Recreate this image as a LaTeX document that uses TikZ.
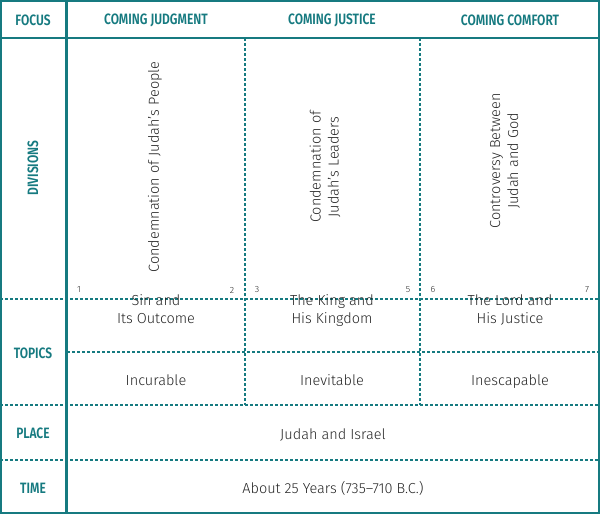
\documentclass[tikz,border=0pt]{standalone}
\usepackage{fontspec}
\setmainfont{Fira Sans Light}
\newfontfamily\hdfont[FakeStretch=0.8]{Fira Sans SemiBold}
\definecolor{teal1}{HTML}{167A80}
\begin{document}
\begin{tikzpicture}[x=1pt,y=-1pt,
  solid line/.style={teal1,line width=2.2pt},
  dash line/.style={teal1,line width=1.2pt,dash pattern=on 3pt off 2pt},
  hd/.style={text=teal1,font=\hdfont\fontsize{15}{16}\selectfont},
  bd/.style={font=\fontsize{14.5}{18}\selectfont,align=center,text=black!85},
  vt/.style={bd,rotate=90},
  num/.style={font=\fontsize{9}{10}\selectfont,text=black!85}]
\useasboundingbox (0,0) rectangle (600,514);
% dashed lines
\draw[dash line] (245,38) -- (245,405);
\draw[dash line] (420,38) -- (420,405);
\draw[dash line] (0,299) -- (600,299);
\draw[dash line] (67,352) -- (600,352);
\draw[dash line] (0,405) -- (600,405);
\draw[dash line] (0,460) -- (600,460);
% solid lines
\draw[solid line] (1.1,1.1) rectangle (598.9,512.9);
\draw[solid line] (0,38) -- (600,38);
\draw[solid line] (66.5,0) -- (66.5,514);
% headers
\node[hd] (h0) at (33,20) {FOCUS};
\node[hd] (h1) at (156,20) {COMING JUDGMENT};
\node[hd] (h2) at (332,20) {COMING JUSTICE};
\node[hd] (h3) at (510,20) {COMING COMFORT};
\node[hd,rotate=90] (r1) at (33,168) {DIVISIONS};
\node[hd] (r2) at (33,353) {TOPICS};
\node[hd] (r3) at (33,433) {PLACE};
\node[hd] (r4) at (33,488) {TIME};
% divisions
\node[vt] (d1) at (155,167) {Condemnation of Judah’s People};
\node[vt] (d2) at (325,167) {Condemnation of\\Judah’s Leaders};
\node[vt] (d3) at (505,161) {Controversy Between\\Judah and God};
\node[num] (n1) at (79,290) {1};
\node[num] (n2) at (232,290) {2};
\node[num] (n3) at (257,290) {3};
\node[num] (n5) at (408,290) {5};
\node[num] (n6) at (433,290) {6};
\node[num] (n7) at (587,290) {7};
% topics
\node[bd,anchor=base] (t1) at (156,323) {Sin and\\Its Outcome};
\node[bd,anchor=base] (t2) at (332,323) {The King and\\His Kingdom};
\node[bd,anchor=base] (t3) at (510,323) {The Lord and\\His Justice};
\node[bd,anchor=base] (u1) at (156,385) {Incurable};
\node[bd,anchor=base] (u2) at (332,385) {Inevitable};
\node[bd,anchor=base] (u3) at (510,385) {Inescapable};
\node[bd,anchor=base] (p) at (333,439) {Judah and Israel};
\node[bd,anchor=base] (tm) at (333,493) {About 25 Years (735–710 B.C.)};
\end{tikzpicture}
\end{document}
